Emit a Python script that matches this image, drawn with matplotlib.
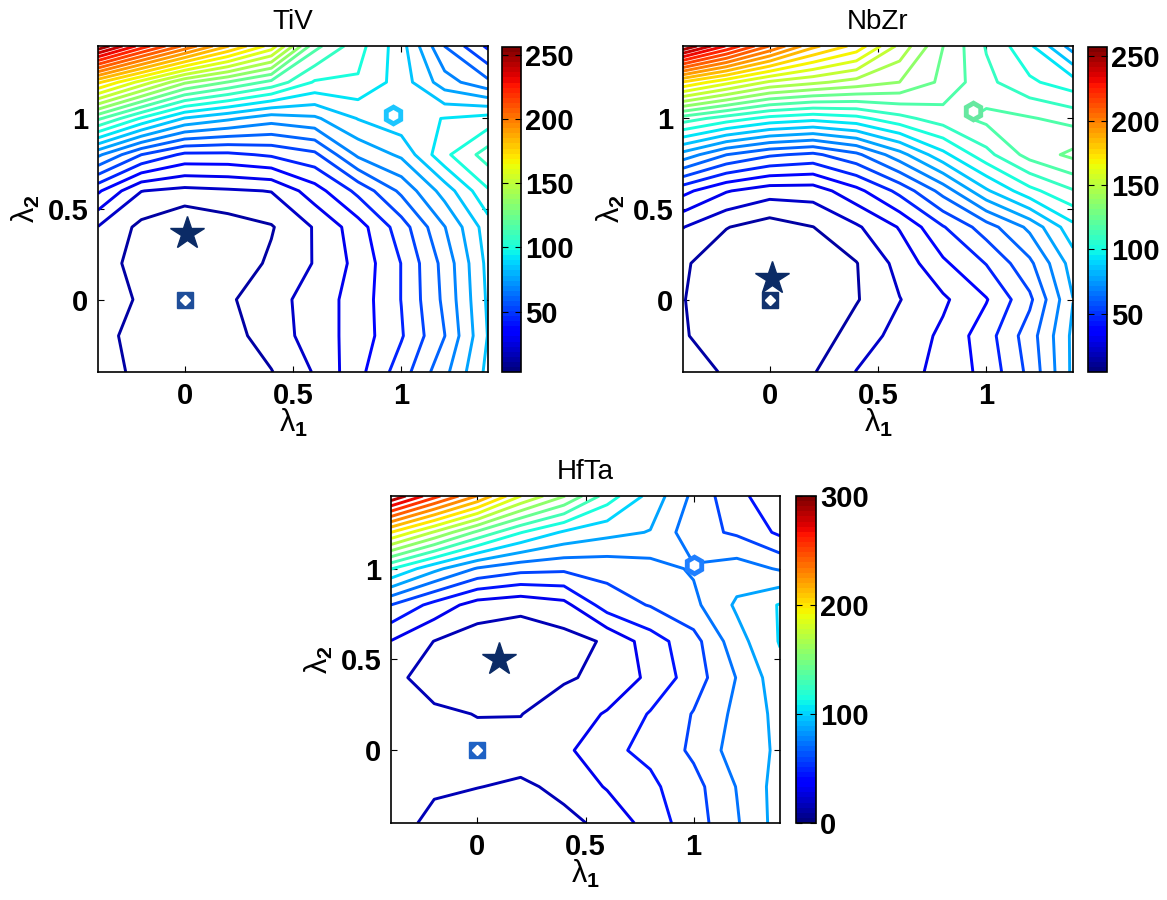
import numpy as np
import matplotlib
matplotlib.use('Agg')
import matplotlib.pyplot as plt
from matplotlib.colors import Normalize
from matplotlib.cm import ScalarMappable

plt.rcParams['font.family'] = 'Liberation Sans'
plt.rcParams['mathtext.fontset'] = 'custom'
plt.rcParams['mathtext.rm'] = 'Liberation Sans'
plt.rcParams['mathtext.bf'] = 'Liberation Sans:bold'

# grid of lambda_1 / lambda_2 values
lam = [-0.4, -0.2, 0.0, 0.2, 0.4, 0.6, 0.8, 1.0, 1.2, 1.4]

# energy surfaces, rows = lambda_2 (bottom -> top), cols = lambda_1 (left -> right)
tiv = [
    [15, 9, 6, 8, 10.8, 20, 33, 48, 66, 87],
    [14, 8, 5, 8, 15, 23, 31, 43, 60, 85],
    [16, 10, 5, 10, 16, 23, 31, 44, 62, 86],
    [15, 8, 4, 6, 12.5, 19.8, 30, 44, 63, 87],
    [19, 9, 3, 7, 10.5, 20, 32, 48, 68, 89],
    [37, 19.5, 17, 18.2, 19.6, 32, 46, 62, 80, 100],
    [70, 52, 42, 42, 45, 50, 70, 78, 99, 113],
    [119, 100, 84, 78, 72, 75, 85, 90.5, 93, 96],
    [176, 155, 135, 125, 115, 100, 100, 89, 72, 62],
    [255, 228, 205, 183, 163, 120, 104, 88, 60, 42],
]

nbzr = [
    [18, 12, 10, 12.5, 21.5, 26, 32, 40, 56, 80],
    [14, 8, 5, 8, 17, 24, 31, 42, 58, 80],
    [13.5, 7, 5, 7, 12.5, 21, 28, 37, 52, 78],
    [14.5, 7, 5.5, 7, 12.8, 24, 36, 46, 60, 82],
    [21.5, 13.5, 9, 13, 20, 30, 45, 58, 72, 92],
    [40, 30, 25, 25, 35, 48, 65, 85, 100, 110],
    [75, 62, 55, 52, 60, 75, 92, 108, 122, 129],
    [115, 107, 100, 97, 100, 108, 115, 121, 119.5, 116],
    [175, 162, 150, 145, 140, 135, 125, 113, 104, 98],
    [257, 232, 208, 186, 173, 149, 127, 110, 96, 74],
]

hfta = [
    [18, 12, 9, 10, 12.5, 16, 36, 50, 70, 92],
    [17, 15.5, 14.5, 13, 16, 30, 40, 52, 72, 92],
    [20, 18, 17, 18, 25, 40, 46, 60, 78, 88],
    [19, 16, 14, 14, 20, 30, 44, 58, 75, 90],
    [17, 10, 7, 7.5, 13, 17, 32, 50, 72, 95],
    [28, 14, 7, 6, 9, 16, 36, 52, 80, 101],
    [57, 38, 22, 18, 24, 50, 58, 68, 88, 101],
    [115, 90, 70, 62, 60, 62, 66, 73, 78, 70],
    [200, 170, 140, 115, 98, 90, 85, 62, 55, 40],
    [298, 262, 228, 186, 158, 122, 95, 68, 46, 35],
]

titles = ['TiV', 'NbZr', 'HfTa']
surfaces = [tiv, nbzr, hfta]
clims = [(3, 256), (5, 257), (0, 300)]
n_levels = [30, 30, 20]
cbar_ticks = [[50, 100, 150, 200, 250], [50, 100, 150, 200, 250], [0, 100, 200, 300]]

# special points: (x, y) of star, square, hexagon
star_pts = [(0.01, 0.37), (0.01, 0.12), (0.10, 0.50)]
square_pts = [(0.0, 0.0), (0.0, 0.0), (0.0, 0.0)]
hex_pts = [(0.96, 1.02), (0.94, 1.04), (1.0, 1.02)]

star_color = '#0b2b66'
square_colors = ['#1f4e9a', '#12326e', '#1f62c4']
hex_colors = ['#1cc6ff', '#66e8a0', '#1f7fff']

W, H = 1167, 900
# pixel boxes: left, top, right, bottom
ax_boxes = [(98, 46, 488, 372), (683, 46, 1073, 372), (391, 496, 780, 823)]
cb_boxes = [(502, 47, 521, 372), (1088, 47, 1107, 372), (796, 496, 816, 823)]


def to_fig(box):
    l, t, r, b = box
    return [l / W, 1 - b / H, (r - l) / W, (b - t) / H]


cmap = plt.get_cmap('jet', 64)
fig = plt.figure(figsize=(W / 100, H / 100), dpi=100)

for i in range(3):
    ax = fig.add_axes(to_fig(ax_boxes[i]))
    cax = fig.add_axes(to_fig(cb_boxes[i]))
    vmin, vmax = clims[i]
    norm = Normalize(vmin=vmin, vmax=vmax)
    levels = np.linspace(vmin, vmax, n_levels[i] + 2)[1:-1]
    X, Y = np.meshgrid(lam, lam)
    Z = np.array(surfaces[i], dtype=float)
    ax.contour(X, Y, Z, levels=levels, cmap=cmap, norm=norm, linewidths=2.1)

    sx, sy = star_pts[i]
    ax.plot(sx, sy, marker='*', ms=25, color=star_color, mec=star_color, zorder=5)
    qx, qy = square_pts[i]
    ax.plot(qx, qy, marker='s', ms=11, color=square_colors[i], zorder=5)
    ax.plot(qx, qy, marker='D', ms=5, color='white', zorder=6)
    hx, hy = hex_pts[i]
    ax.plot(hx, hy, marker='h', ms=12, mfc='white', mec=hex_colors[i], mew=3.5, zorder=5)

    ax.set_xlim(-0.4, 1.4)
    ax.set_ylim(-0.4, 1.4)
    ax.set_xticks([0, 0.5, 1])
    ax.set_xticklabels(['0', '0.5', '1'])
    ax.set_yticks([0, 0.5, 1])
    ax.set_yticklabels(['0', '0.5', '1'])
    ax.tick_params(direction='in', length=4, width=0.8, top=True, right=True,
                   labelsize=21, pad=7)
    for lab in ax.get_xticklabels() + ax.get_yticklabels():
        lab.set_fontweight('bold')
    for sp in ax.spines.values():
        sp.set_linewidth(1.2)
    ax.set_title(titles[i], fontsize=20, pad=12)
    ax.set_xlabel('λ$_\\mathbf{1}$', fontsize=22, labelpad=-2)
    ax.set_ylabel('λ$_\\mathbf{2}$', fontsize=22, labelpad=4)

    cb = fig.colorbar(ScalarMappable(norm=norm, cmap=cmap), cax=cax, ticks=cbar_ticks[i])
    cb.outline.set_linewidth(1.2)
    cax.tick_params(direction='in', length=4, left=True, right=True, labelsize=21, pad=3)
    for lab in cax.get_yticklabels():
        lab.set_fontweight('bold')

fig.savefig('out.png', dpi=100)
